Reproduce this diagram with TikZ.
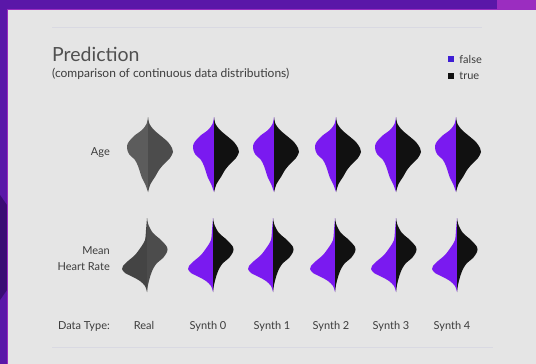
\documentclass[tikz,border=0pt]{standalone}
\usepackage{fontspec}
\setmainfont{Lato}
\usetikzlibrary{positioning}
\definecolor{bgpurple}{HTML}{5A17A8}
\definecolor{bgdark}{HTML}{3A0C74}
\definecolor{bgmagenta}{HTML}{9B2DC0}
\definecolor{cardgray}{HTML}{E5E5E5}
\definecolor{rulegray}{HTML}{D9D9E2}
\definecolor{textgray}{HTML}{3C3C3C}
\definecolor{falsecol}{RGB}{122,26,240}
\definecolor{legfalse}{RGB}{62,30,212}
\definecolor{truecol}{HTML}{111111}
\definecolor{realleft}{HTML}{5C5C5C}
\definecolor{realright}{HTML}{4C4C4C}

% one violin for the Age row: #1 centre, #2 left colour, #3 right colour
\newcommand\agevio[3]{%
  \fill[#2,shift={#1}] plot[smooth] coordinates {(0,-37) (-1.5,-30) (-6,-24) (-14,-18) (-20,-11) (-21,-6) (-19,0) (-13,6) (-10,12) (-8,18) (-6,24) (-2.5,31) (0,38)} -- cycle;
  \fill[#3,shift={#1}] plot[smooth] coordinates {(0,-37) (1.5,-30) (6,-24) (13,-18) (20,-12) (24,-6) (25,-2) (22,4) (16,10) (11,16) (7,23) (2.5,30) (0,38)} -- cycle;}
% one violin for the Mean Heart Rate row
\newcommand\hrvio[3]{%
  \fill[#2,shift={#1}] plot[smooth] coordinates {(0,-37) (-1,-25) (-2,-15) (-6,-8) (-12,0) (-19,6) (-24,11) (-25,14) (-22,18) (-14,22) (-7,26) (-2,31) (0,37)} -- cycle;
  \fill[#3,shift={#1}] plot[smooth] coordinates {(0,-37) (1.5,-30) (6,-22) (14,-15) (20,-8) (20,-3) (16,3) (10,8) (6,14) (3,22) (1,30) (0,37)} -- cycle;}

\begin{document}
\begin{tikzpicture}[x=1pt,y=-1pt,font=\fontsize{11}{13}\selectfont,text=textgray]
      \tikzstyle{rowlabel}=[anchor=base east,inner sep=0pt]
      \tikzstyle{collabel}=[anchor=base,inner sep=0pt]
      \tikzstyle{legsq}=[minimum size=6pt,inner sep=0pt]
      \tikzstyle{legtext}=[anchor=base west,inner sep=0pt]
      \tikzstyle{hrule}=[rulegray,line width=0.8pt]

      % Background and card
      \fill[bgpurple] (0,0) rectangle (536,364);
      \fill[bgmagenta] (497,0) rectangle (536,9);
      \fill[bgdark] (0,195) -- (7,205) -- (7,290) -- (0,300) -- cycle;
      \fill[bgmagenta] (7,9) rectangle (536,364);
      \fill[cardgray] (8,10) rectangle (536,364);
      \useasboundingbox (0,0) rectangle (536,364);

      % Rules
      \coordinate (top-l) at (52,27);
      \coordinate (top-r) at (482,27);
      \coordinate (bot-l) at (52,347);
      \coordinate (bot-r) at (493,347);
      \draw[hrule] (top-l) -- (top-r);
      \draw[hrule] (bot-l) -- (bot-r);

      % Title
      \node[anchor=base west,inner sep=0pt,font=\fontsize{19.5}{23}\selectfont,text=textgray!90] (title) at (52,61) {Prediction};
      \node[anchor=base west,inner sep=0pt,font=\fontsize{12}{14}\selectfont] (subtitle) at (52,77) {(comparison of continuous data distributions)};

      % Legend
      \node[legsq,fill=legfalse] (sq-false) at (451,59) {};
      \node[legtext,right=5pt of sq-false.east,anchor=west] (leg-false) {false};
      \node[legsq,fill=truecol] (sq-true) at (451,76) {};
      \node[legtext,right=5pt of sq-true.east,anchor=west] (leg-true) {true};

      % Row labels
      \node[rowlabel] (age) at (110,155) {Age};
      \node[rowlabel] (hr-1) at (110,254) {Mean};
      \node[rowlabel] (hr-2) at (110,270) {Heart Rate};
      \node[rowlabel] (dtype) at (110,329) {Data Type:};

      % Column labels
      \node[collabel] (real) at (144,329) {Real};
      \foreach \name / \x in {0/208,1/272,2/331,3/391,4/452}
          \node[collabel] (synth-\name) at (\x,329) {Synth \name};

      % Age violins
      \agevio{(148,154)}{realleft}{realright}
      \foreach \x in {214,274,336,396,456}
          {\agevio{(\x,154)}{falsecol}{truecol}}

      % Mean Heart Rate violins
      \hrvio{(147,255)}{realleft!115}{realright}
      \foreach \x in {213,273,335,396,457}
          {\hrvio{(\x,255)}{falsecol}{truecol}}
  \end{tikzpicture}
\end{document}
